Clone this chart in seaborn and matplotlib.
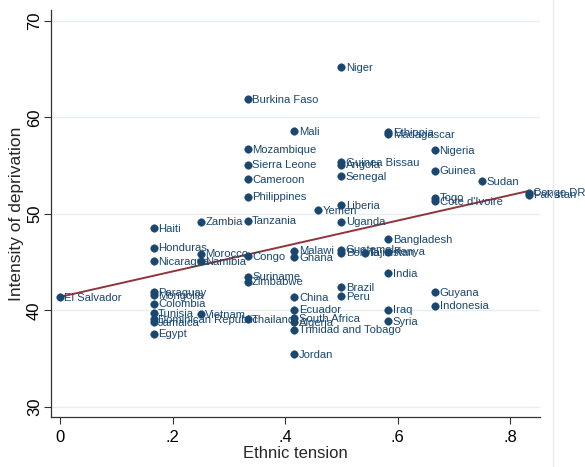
import matplotlib
matplotlib.use("Agg")
import matplotlib.pyplot as plt
import seaborn as sns
import pandas as pd
from matplotlib.lines import Line2D

countries = ["El Salvador", "Haiti", "Honduras", "Nicaragua", "Paraguay", "Mongolia",
             "Colombia", "Tunisia", "Dominican Republic", "Jamaica", "Egypt",
             "Zambia", "Morocco", "Namibia", "Vietnam",
             "Burkina Faso", "Mozambique", "Sierra Leone", "Cameroon", "Philippines",
             "Tanzania", "Congo", "Suriname", "Zimbabwe", "Thailand",
             "Mali", "Malawi", "Ghana", "China", "Ecuador", "South Africa", "Algeria",
             "Trinidad and Tobago", "Jordan",
             "Yemen",
             "Niger", "Guinea Bissau", "Angola", "Senegal", "Liberia", "Uganda",
             "Guatemala", "Bolivia", "Brazil", "Peru",
             "Tajikistan",
             "Ethiopia", "Madagascar", "Bangladesh", "Kenya", "India", "Iraq", "Syria",
             "Nigeria", "Guinea", "Togo", "Cote d'Ivoire", "Guyana", "Indonesia",
             "Sudan",
             "Congo DR", "Pakistan"]

ethnic_tension = [0.0, 0.1667, 0.1667, 0.1667, 0.1667, 0.1667,
                  0.1667, 0.1667, 0.1667, 0.1667, 0.1667,
                  0.25, 0.25, 0.25, 0.25,
                  0.3333, 0.3333, 0.3333, 0.3333, 0.3333,
                  0.3333, 0.3333, 0.3333, 0.3333, 0.3333,
                  0.4167, 0.4167, 0.4167, 0.4167, 0.4167, 0.4167, 0.4167,
                  0.4167, 0.4167,
                  0.4583,
                  0.5, 0.5, 0.5, 0.5, 0.5, 0.5,
                  0.5, 0.5, 0.5, 0.5,
                  0.5417,
                  0.5833, 0.5833, 0.5833, 0.5833, 0.5833, 0.5833, 0.5833,
                  0.6667, 0.6667, 0.6667, 0.6667, 0.6667, 0.6667,
                  0.75,
                  0.8333, 0.8333]

deprivation = [41.4, 48.55, 46.5, 45.1, 41.9, 41.6,
               40.7, 39.7, 39.1, 38.8, 37.6,
               49.2, 45.9, 45.1, 39.6,
               61.9, 56.7, 55.1, 53.6, 51.8,
               49.3, 45.6, 43.5, 43.0, 39.1,
               58.6, 46.2, 45.5, 41.4, 40.1, 39.2, 38.8,
               38.0, 35.5,
               50.4,
               65.2, 55.4, 55.1, 53.9, 50.9, 49.2,
               46.3, 46.0, 42.4, 41.5,
               46.0,
               58.5, 58.3, 47.4, 46.1, 43.9, 40.1, 38.9,
               56.6, 54.5, 51.7, 51.3, 41.9, 40.5,
               53.4,
               52.2, 52.0]

y_ticks = [30, 40, 50, 60, 70]
x_ticks = [0, 0.2, 0.4, 0.6, 0.8]
x_tick_labels = ["0", ".2", ".4", ".6", ".8"]

df = pd.DataFrame({"country": countries, "x": ethnic_tension, "y": deprivation})

sns.set_style("white")
plt.rcParams["font.family"] = ["Liberation Sans Narrow", "Liberation Sans", "DejaVu Sans"]

navy = "#1a476f"
maroon = "#90353b"
grid_c = "#e6eef1"

fig = plt.figure(figsize=(5.85, 4.67), dpi=100)
ax = fig.add_axes([51/585, 1 - 417/467, (540 - 51)/585, (417 - 10)/467])

ax.set_xlim(-0.016, 0.853)
ax.set_ylim(28.96, 71.14)

for t in y_ticks:
    ax.axhline(t, color=grid_c, lw=1.0, zorder=0)

sns.regplot(data=df, x="x", y="y", scatter=False, ci=None, ax=ax,
            line_kws={"color": maroon, "lw": 1.4, "zorder": 2})
sns.scatterplot(data=df, x="x", y="y", ax=ax, color=navy, s=30,
                edgecolor=navy, linewidth=0.3, zorder=3, legend=False)

for c, xv, yv in zip(countries, ethnic_tension, deprivation):
    ax.annotate(c, (xv, yv), xytext=(3.2, -0.5), textcoords="offset points",
                va="center", ha="left", fontsize=8.1, color=navy, zorder=4,
                annotation_clip=False)

ax.set_xticks(x_ticks)
ax.set_xticklabels(x_tick_labels)
ax.set_yticks(y_ticks)
ax.set_yticklabels([str(t) for t in y_ticks], rotation=90, va="center")
ax.tick_params(axis="both", direction="out", length=5, width=0.8, color="#333333",
               labelsize=12, labelcolor="black")
ax.tick_params(axis="x", bottom=True, pad=4)
ax.tick_params(axis="y", left=True, pad=1.5)

for side in ["top", "right"]:
    ax.spines[side].set_visible(False)
for side in ["left", "bottom"]:
    ax.spines[side].set_color("#333333")
    ax.spines[side].set_linewidth(0.9)

ax.set_xlabel("Ethnic tension", fontsize=12, labelpad=1)
ax.set_ylabel("Intensity of deprivation", fontsize=12.5, labelpad=2)

fig.add_artist(Line2D([553/585, 553/585], [0, 1], color="#e8eef0", lw=1.0))

fig.savefig("out.png", dpi=100)
